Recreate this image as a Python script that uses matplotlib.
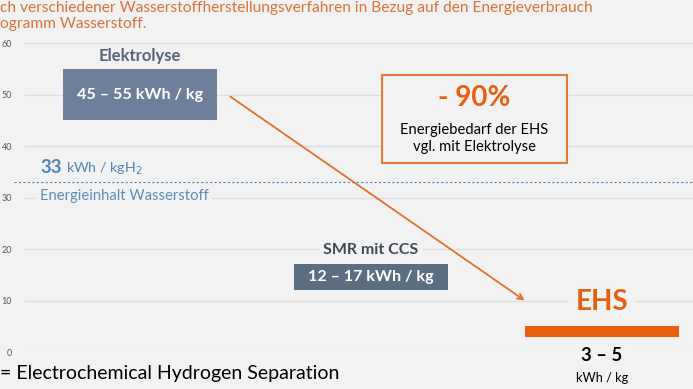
import matplotlib.pyplot as plt
import numpy as np

# Data
methods = ["Elektrolyse", "SMR mit CCS", "EHS"]
low = [45, 12, 3]
high = [55, 17, 5]
bar_labels = ["45 – 55 kWh / kg", "12 – 17 kWh / kg", ""]
h2_energy = 33
y_ticks = [0, 10, 20, 30, 40, 50, 60]

BG = "#F2F2F2"
ORANGE = "#E8600F"
BLUE = "#4F86B8"
FONT = "Lato"

plt.rcParams['font.family'] = [FONT, 'DejaVu Sans']

fig = plt.figure(figsize=(6.93, 3.89), dpi=100, facecolor=BG)
ax = fig.add_axes([24.5 / 693, 37 / 389, 1.0, 309 / 389])
ax.set_facecolor(BG)

x = np.arange(len(methods))
heights = [h - l for l, h in zip(low, high)]
colors = ["#6E7F9C", "#5B6D80", ORANGE]

ax.set_xlim(-0.5, 2.5)
ax.set_ylim(0, 60)
ax.set_yticks(y_ticks)
ax.set_yticklabels([str(t) for t in y_ticks], fontsize=6.5, color="#595959")
ax.tick_params(axis='y', length=0, pad=9)
ax.set_xticks([])
for s in ax.spines.values():
    s.set_visible(False)
ax.grid(axis='y', color="#DEDEDE", linewidth=1)
ax.set_axisbelow(True)

# Floating bars
bars = ax.bar(x, heights, bottom=low, width=0.667, color=colors, zorder=3)
for b, lab in zip(bars, bar_labels):
    if lab:
        ax.text(b.get_x() + b.get_width() / 2, b.get_y() + b.get_height() / 2, lab,
                ha='center', va='center', color='white', fontsize=11.6,
                fontweight='bold', zorder=4)

# Category labels
ax.text(x[0], 57.5, methods[0], ha='center', va='center', fontsize=12,
        fontweight='bold', color="#56657A", zorder=4)
ax.text(x[1], 19.8, methods[1], ha='center', va='center', fontsize=11.5,
        fontweight='bold', color="#404A55", zorder=4,
        bbox=dict(boxstyle='square,pad=0.3', fc=BG, ec='none'))
ax.text(x[2], 9.8, methods[2], ha='center', va='center', fontsize=20,
        fontweight='bold', color=ORANGE, zorder=4,
        bbox=dict(boxstyle='square,pad=0.25', fc=BG, ec='none'))
ax.text(x[2], -0.6, f"{low[2]} – {high[2]}", ha='center', va='center',
        fontsize=13.3, fontweight='bold', color="black", zorder=4,
        bbox=dict(boxstyle='square,pad=0.3', fc=BG, ec='none'), clip_on=False)
ax.text(x[2], -5, "kWh / kg", ha='center', va='center', fontsize=9.2,
        color="black", zorder=4, clip_on=False)

# Hydrogen energy content line
ax.axhline(h2_energy, xmin=-0.015, xmax=1, color=BLUE, linestyle=(0, (2, 2)),
           linewidth=0.8, zorder=2, clip_on=False)
ax.text(-0.433, 35.9, "33", fontsize=13.5, fontweight='bold', color=BLUE,
        va='center', ha='left', zorder=4)
ax.text(-0.32, 35.6, "kWh / kgH$_2$", fontsize=10.3, color=BLUE, va='center',
        ha='left', zorder=4)
ax.text(-0.433, 30.2, "Energieinhalt Wasserstoff", fontsize=10.6, color="#5B8DBB",
        va='center', ha='left', zorder=4,
        bbox=dict(boxstyle='square,pad=0.25', fc=BG, ec='none'))

# Arrow from Elektrolyse to EHS
ax.annotate("", xy=(1.675, 9.7), xytext=(0.381, 49.9),
            arrowprops=dict(arrowstyle='->', color="#E0702A", lw=1.3,
                            mutation_scale=10), zorder=4)

# -90% callout box
box = plt.Rectangle((1.048, 36.7), 0.8, 17.1, fc=BG, ec="#E07B39", lw=1.5,
                    zorder=4)
ax.add_patch(box)
ax.text(1.448, 49.3, "- 90%", ha='center', va='center', fontsize=20,
        fontweight='bold', color=ORANGE, zorder=5)
ax.text(1.448, 41.5, "Energiebedarf der EHS\nvgl. mit Elektrolyse", ha='center',
        va='center', fontsize=10.6, color="black", linespacing=1.25, zorder=5)

# Slide texts (cropped)
fig.text(0.0, 381 / 389, "ch verschiedener Wasserstoffherstellungsverfahren in Bezug auf den Energieverbrauch",
         ha='left', va='center', fontsize=11.2, color="#D9733A")
fig.text(0.0, 365 / 389, "ogramm Wasserstoff.", ha='left', va='center',
         fontsize=11.2, color="#D9733A")
fig.text(0.0, 15 / 389, "= Electrochemical Hydrogen Separation", ha='left',
         va='center', fontsize=14, color="black")

fig.savefig("out.png", dpi=100, facecolor=BG)
